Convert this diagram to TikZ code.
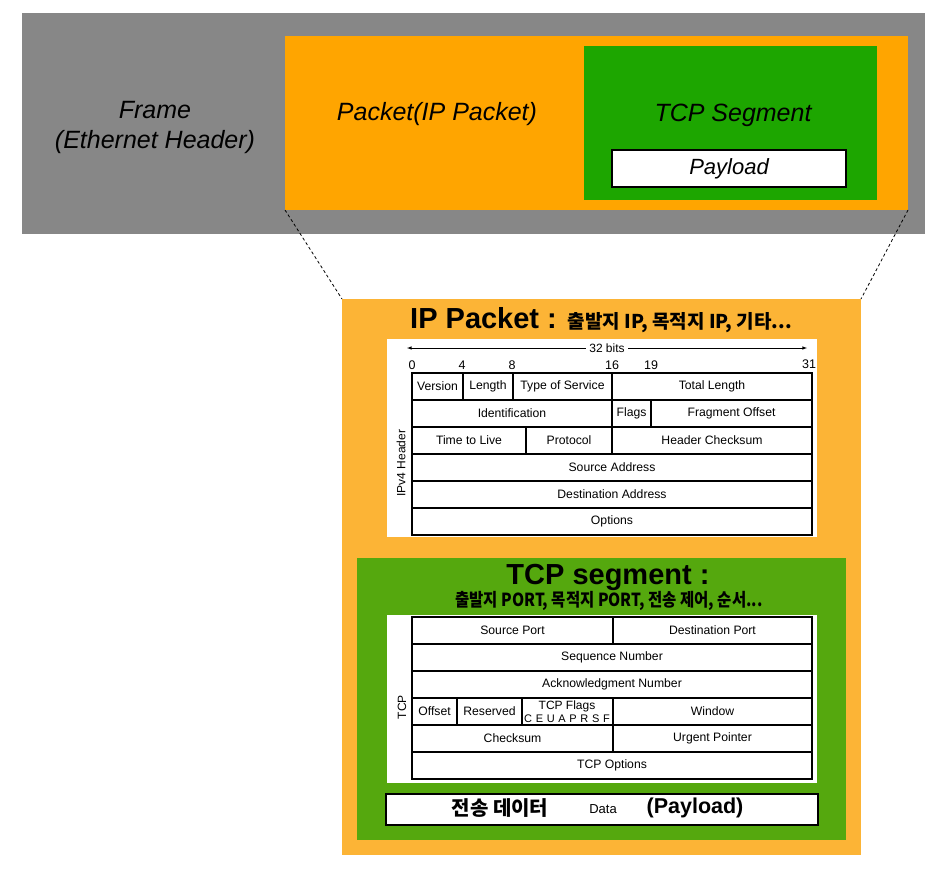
\documentclass[tikz,border=0pt]{standalone}
\usepackage{fontspec}
\setmainfont{Liberation Sans}
\newfontfamily\kr{Noto Sans CJK KR}
\usetikzlibrary{arrows,positioning}

\definecolor{framegray}{HTML}{878787}
\definecolor{pktorange}{HTML}{FFA500}
\definecolor{seggreen}{HTML}{1DA600}
\definecolor{iporange}{HTML}{FCB436}
\definecolor{tcpgreen}{HTML}{55A80E}

\begin{document}
\begin{tikzpicture}[x=1pt,y=-1pt,
		box/.style={anchor=north west,inner sep=0,outer sep=0},
		cell/.style={draw,line width=1.4pt,anchor=north west,inner sep=0,outer sep=0,minimum height=27,font=\fontsize{12.2}{14}\selectfont},
		bignote/.style={font=\fontsize{25}{30}\selectfont\itshape,align=center},
		bitnum/.style={font=\fontsize{12.5}{14}\selectfont}]
		\useasboundingbox (0,0) rectangle (947,873);

		\node[box,fill=framegray,minimum width=903,minimum height=221] (frame) at (22,13) {};
		\node[box,fill=pktorange,minimum width=623,minimum height=174] (packet) at (285,36) {};
		\node[box,fill=seggreen,minimum width=293,minimum height=154] (segment) at (584,46) {};
		\node[box,draw,line width=2pt,fill=white,minimum width=234,minimum height=37,font=\fontsize{22}{26}\selectfont\itshape] (payload) at (612,150) {Payload};

		\node[bignote] (framelbl) at (155,127) {Frame\\(Ethernet Header)};
		\node[bignote] (packetlbl) at (437,114.5) {Packet(IP Packet)};
		\node[bignote] (segmentlbl) at (733,115) {TCP Segment};

		\node[box,fill=iporange,minimum width=519,minimum height=556] (ipbox) at (342,299) {};
		\draw[dash pattern=on 3pt off 2.5pt,line width=0.8pt] (packet.south west) -- (ipbox.north west);
		\draw[dash pattern=on 3pt off 2.5pt,line width=0.8pt] (packet.south east) -- (ipbox.north east);

		\node (iptitle) at (601,320) {\fontsize{29}{34}\selectfont\bfseries IP Packet : {\kr\fontsize{19}{22}\selectfont\bfseries 출발지 IP, 목적지 IP, 기타...}};

		% IPv4 header
		\node[box,fill=white,minimum width=430,minimum height=198] (iphead) at (387,339) {};
		\coordinate (bitsl) at (407,348);
		\coordinate (bitsr) at (807,348);
		\draw[latex-latex,line width=0.6pt] (bitsl) -- node[fill=white,inner sep=3pt,font=\fontsize{12}{14}\selectfont] (bits) {32 bits} (bitsr);
		\node[bitnum] (b0) at (412,365) {0};
		\node[bitnum] (b4) at (462,365) {4};
		\node[bitnum] (b8) at (512,365) {8};
		\node[bitnum] (b16) at (612,365) {16};
		\node[bitnum] (b19) at (651,365) {19};
		\node[bitnum] (b31) at (809,364) {31};

		\node[cell,minimum width=51] (ver) at (412,373) {Version};
		\node[cell,minimum width=50] (len) at (463,373) {Length};
		\node[cell,minimum width=99] (tos) at (513,373) {Type of Service};
		\node[cell,minimum width=200] (tlen) at (612,373) {Total Length};
		\node[cell,minimum width=200] (ident) at (412,400) {Identification};
		\node[cell,minimum width=39] (flags) at (612,400) {Flags};
		\node[cell,minimum width=161] (frag) at (651,400) {Fragment Offset};
		\node[cell,minimum width=114] (ttl) at (412,427) {Time to Live};
		\node[cell,minimum width=86] (proto) at (526,427) {Protocol};
		\node[cell,minimum width=200] (hcs) at (612,427) {Header Checksum};
		\node[cell,minimum width=400] (srcaddr) at (412,454) {Source Address};
		\node[cell,minimum width=400] (dstaddr) at (412,481) {Destination Address};
		\node[cell,minimum width=400] (ipopts) at (412,508) {Options};
		\node[rotate=90,font=\fontsize{12}{14}\selectfont] (iphdrlbl) at (401,463) {IPv4 Header};

		% TCP segment
		\node[box,fill=tcpgreen,minimum width=489,minimum height=282] (tcpbox) at (357,558) {};
		\node[font=\fontsize{29}{34}\selectfont\bfseries] (tcptitle) at (608,577) {TCP segment :};
		\node[xscale=0.86,font=\kr\fontsize{18}{22}\selectfont\bfseries] (tcpsub) at (609,601) {출발지 PORT, 목적지 PORT, 전송 제어, 순서...};

		\node[box,fill=white,minimum width=430,minimum height=168] (tcphead) at (387,615) {};
		\node[cell,minimum width=201] (sport) at (412,617) {Source Port};
		\node[cell,minimum width=199] (dport) at (613,617) {Destination Port};
		\node[cell,minimum width=400] (seqno) at (412,644) {Sequence Number};
		\node[cell,minimum width=400] (ackno) at (412,671) {Acknowledgment Number};
		\node[cell,minimum width=45] (offset) at (412,698) {Offset};
		\node[cell,minimum width=65] (rsvd) at (457,698) {Reserved};
		\node[cell,minimum width=91] (tflags) at (522,698) {};
		\node[cell,minimum width=199] (window) at (613,698) {Window};
		\node[cell,minimum width=201] (csum) at (412,725) {Checksum};
		\node[cell,minimum width=199] (urgptr) at (613,725) {Urgent Pointer};
		\node[cell,minimum width=400] (tcpopts) at (412,752) {TCP Options};
		\node[font=\fontsize{12}{14}\selectfont,inner sep=0] (tflagslbl) at (567,706) {TCP Flags};
		\node[font=\fontsize{11}{12}\selectfont,inner sep=0] (tflagbits) at (567,719) {C\,\,E\,\,U\,\,A\,\,P\,\,R\,\,S\,\,F};
		\node[rotate=90,font=\fontsize{12}{14}\selectfont] (tcplbl) at (402,707) {TCP};

		\node[box,draw,line width=1.6pt,fill=white,minimum width=432,minimum height=31] (databox) at (386,794) {};
		\node[font=\kr\fontsize{20}{24}\selectfont\bfseries] (datakr) at (500,808) {전송 데이터};
		\node[font=\fontsize{13}{15}\selectfont] (datalbl) at (603,809) {Data};
		\node[font=\fontsize{21.5}{26}\selectfont\bfseries] (datapay) at (695,808) {(Payload)};
	\end{tikzpicture}
\end{document}
